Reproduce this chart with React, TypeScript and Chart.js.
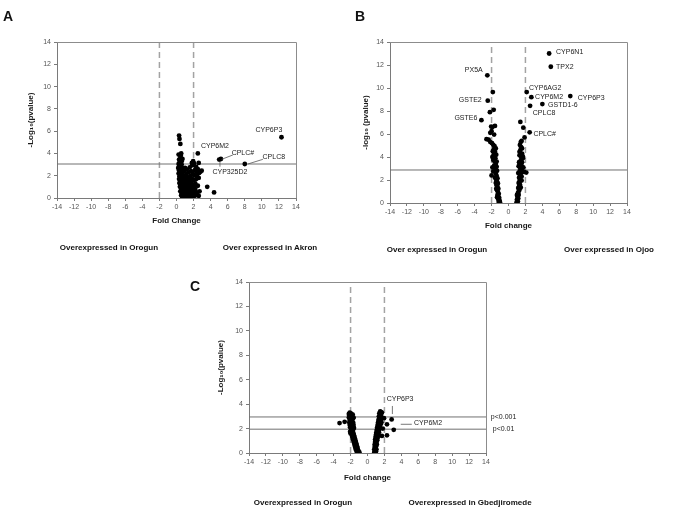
import React, { useEffect, useRef } from "react";
import { Chart, registerables } from "chart.js";
Chart.register(...registerables);

const FONT = "'Liberation Sans', Arial, sans-serif";

// ---------- Panel A ----------
const aPoints: number[][] = [
  [0.3,5.6],[0.35,5.3],[0.45,4.85],[0.55,4.0],[0.5,3.8],[0.45,3.6],[0.55,3.45],[0.4,3.3],[0.5,3.15],[0.6,3.0],
  [0.35,2.9],[0.45,2.75],[0.55,2.6],[0.3,2.5],[0.5,2.4],[0.65,2.3],[0.4,2.2],[0.55,2.05],[0.35,1.95],[0.6,1.85],
  [0.45,1.75],[0.7,1.65],[0.5,1.5],[0.65,1.4],[0.4,1.3],[0.55,1.2],[0.75,1.1],[0.5,1.0],[0.65,0.9],[0.8,0.8],
  [0.55,0.7],[0.7,0.6],[0.9,0.5],[0.6,0.45],[0.75,0.35],[0.85,0.25],[0.95,0.15],[0.8,0.1],[1.0,0.05],[1.1,0.2],
  [1.2,0.35],[1.35,0.25],[1.5,0.15],[1.65,0.3],[1.8,0.2],[2.0,0.1],[2.3,0.25],[2.6,0.2],[0.95,0.6],[1.05,0.8],
  [1.15,1.0],[1.0,1.25],[0.9,1.45],[1.2,1.55],[1.3,1.3],[1.45,1.1],[1.6,0.9],[1.4,0.7],[1.25,0.55],[1.75,0.65],
  [1.9,0.8],[2.1,0.55],[1.05,1.75],[0.95,1.95],[1.15,2.15],[1.3,1.85],[1.5,1.6],[1.7,1.35],[1.85,1.15],[2.05,1.0],
  [2.2,1.3],[1.6,1.95],[1.4,2.3],[1.2,2.55],[1.0,2.7],[1.8,1.75],[2.0,1.6],[2.3,1.7],[1.7,2.4],[1.9,2.2],
  [2.1,2.05],[2.4,2.0],[2.6,1.8],[1.55,2.75],[1.85,2.95],[1.95,3.3],[1.8,3.15],[2.15,2.5],[2.35,2.35],[2.5,2.6],
  [2.65,2.25],[2.8,2.35],[2.95,2.45],[2.6,3.15],[2.3,2.8],[2.05,3.1],[0.7,2.1],[0.8,1.9],[0.85,2.4],[0.7,2.7],
  [0.25,3.9],[0.3,3.45],[0.25,3.05],[0.2,2.7],[0.25,2.2],[0.3,1.7],[0.35,1.35],[0.4,1.0],[0.45,0.6],[0.55,0.25],
  [0.65,0.15],[1.3,0.1],[1.55,0.45],[1.95,0.4],[2.4,0.5],[2.7,0.6],[2.2,0.8],[2.5,1.1],[0.6,3.3],[0.7,3.5],
  [3.6,1.0],[4.4,0.5],
  [2.5,4.0],[5.0,3.45],[5.2,3.5],[8.0,3.05],[12.3,5.45],
];
const aVLines = [-2, 2];
const aHLines = [3.05];
const aLabels = [
  { text: "CYP6P3", x: 10.82, y: 6.1, align: "center" },
  { text: "CYP6M2", x: 4.5, y: 4.7, align: "center" },
  { text: "CPLC#", x: 7.78, y: 4.04, align: "center" },
  { text: "CPLC8", x: 11.4, y: 3.7, align: "center" },
  { text: "CYP325D2", x: 6.26, y: 2.36, align: "center" },
];
const aLeaders = [[5.29,3.47,6.6,3.86],[8.36,3.05,10.12,3.47],[5.09,3.26,5.09,2.81]];

// ---------- Panel B ----------
const bPoints: number[][] = [
  [-2.5,11.1],[-1.85,9.65],[-2.45,8.9],[-2.2,7.9],[-1.75,8.1],[-3.2,7.2],
  [-2.05,6.65],[-1.9,6.6],[-1.6,6.7],[-2.15,6.1],[-2.0,6.25],[-1.7,5.95],[-2.6,5.55],[-2.35,5.5],[-2.15,5.3],
  [-1.95,5.2],[-1.8,5.05],[-1.65,4.95],[-1.7,4.7],[-1.6,4.45],[-1.9,4.0],[-1.75,4.2],[-1.55,3.9],[-1.65,3.6],
  [-1.5,3.4],[-1.7,3.25],[-1.4,3.15],[-1.55,3.0],[-1.35,2.8],[-1.8,2.75],[-2.0,2.4],[-1.5,2.55],[-1.4,2.35],
  [-1.3,2.15],[-1.45,2.0],[-1.35,1.85],[-1.25,1.7],[-1.4,1.55],[-1.3,1.4],[-1.2,1.25],[-1.35,1.1],[-1.25,0.95],
  [-1.15,0.8],[-1.3,0.7],[-1.2,0.55],[-1.1,0.45],[-1.2,0.3],[-1.05,0.2],[-1.15,0.1],[-1.0,0.05],[-1.9,3.1],
  [-1.5,4.75],[-1.85,4.5],[-1.45,4.2],[-1.8,3.75],[-1.4,3.6],[-1.6,2.2],[-1.5,1.75],[-1.45,1.25],[-1.35,0.5],
  [1.4,7.05],[1.75,6.55],[1.9,5.7],[1.45,5.3],[1.35,5.05],[1.5,4.85],[1.4,4.6],[1.6,4.3],[1.3,4.15],[1.5,4.0],
  [1.7,3.9],[1.45,3.7],[1.6,3.55],[1.35,3.4],[1.55,3.25],[1.75,3.1],[1.4,3.0],[1.6,2.85],[1.3,2.75],[2.1,2.65],
  [1.85,2.7],[1.5,2.6],[1.35,2.45],[1.55,2.3],[1.25,2.2],[1.4,2.05],[1.3,1.9],[1.2,1.75],[1.35,1.6],[1.25,1.45],
  [1.15,1.3],[1.3,1.15],[1.2,1.0],[1.1,0.85],[1.2,0.7],[1.05,0.55],[1.15,0.4],[1.0,0.3],[1.1,0.15],[0.95,0.05],
  [1.25,3.55],[1.3,4.45],[1.6,4.75],[1.55,5.4],[1.7,4.05],[1.2,3.2],[1.15,2.6],[1.55,1.95],[1.45,1.35],[1.0,0.7],
  [4.8,13.0],[5.0,11.85],[2.15,9.65],[2.7,9.2],[7.3,9.3],[4.0,8.6],[2.55,8.45],[2.5,6.15],
];
const bVLines = [-2, 2];
const bHLines = [2.87];
const bLabels = [
  { text: "CYP6N1", x: 5.62, y: 13.1, align: "left" },
  { text: "TPX2", x: 5.62, y: 11.85, align: "left" },
  { text: "PX5A", x: -3.04, y: 11.57, align: "right" },
  { text: "CYP6AG2", x: 2.43, y: 9.97, align: "left" },
  { text: "CYP6M2", x: 3.14, y: 9.24, align: "left" },
  { text: "CYP6P3", x: 8.18, y: 9.16, align: "left" },
  { text: "GSTD1-6", x: 4.68, y: 8.55, align: "left" },
  { text: "CPLC8", x: 2.87, y: 7.8, align: "left" },
  { text: "CPLC#", x: 2.94, y: 5.97, align: "left" },
  { text: "GSTE2", x: -3.16, y: 8.96, align: "right" },
  { text: "GSTE6", x: -3.68, y: 7.36, align: "right" },
];
const bLeaders: number[][] = [];

// ---------- Panel C ----------
const cPoints: number[][] = [
  [-2.1,3.3],[-2.0,3.25],[-1.9,3.2],[-2.15,3.1],[-1.8,3.0],[-2.0,2.95],[-1.65,2.9],[-1.95,2.8],[-2.1,2.7],
  [-1.85,2.6],[-1.7,2.5],[-2.0,2.45],[-1.9,2.3],[-1.75,2.2],[-2.05,2.1],[-1.85,2.0],[-1.7,1.9],[-1.95,1.8],
  [-1.8,1.7],[-2.0,1.6],[-1.65,1.6],[-1.85,1.5],[-1.7,1.4],[-1.55,1.3],[-1.75,1.25],[-1.6,1.15],[-1.45,1.05],
  [-1.65,1.0],[-1.5,0.9],[-1.35,0.8],[-1.55,0.75],[-1.4,0.65],[-1.25,0.55],[-1.45,0.5],[-1.3,0.4],[-1.15,0.3],
  [-1.35,0.25],[-1.2,0.15],[-1.05,0.1],[-1.1,0.02],[-0.95,0.05],[-3.3,2.45],[-2.7,2.55],[-1.7,2.85],
  [-2.2,3.2],[-1.75,3.15],[-2.2,2.9],[-1.85,2.85],[-2.15,2.5],[-1.8,2.4],[-2.1,2.3],[-1.65,2.3],[-1.95,2.15],
  [-1.6,2.05],[-1.9,1.95],[-2.05,1.75],[-1.75,1.75],[-1.9,1.6],[-1.6,1.45],[-1.8,1.35],[-1.5,1.2],[-1.7,1.1],
  [-1.4,0.95],[-1.6,0.85],[-1.3,0.7],[-1.5,0.6],[-1.2,0.45],[-1.4,0.35],[-1.1,0.2],[-1.25,0.05],
  [1.5,3.4],[1.6,3.35],[1.4,3.25],[1.55,3.15],[1.35,3.0],[1.45,2.85],[1.3,2.7],[1.5,2.6],[1.25,2.5],[1.4,2.4],
  [1.2,2.3],[1.35,2.2],[1.15,2.1],[1.3,2.0],[1.1,1.9],[1.25,1.8],[1.05,1.7],[1.2,1.6],[1.0,1.5],[1.15,1.4],
  [0.95,1.3],[1.1,1.2],[0.9,1.1],[1.05,1.0],[0.9,0.9],[1.0,0.8],[0.85,0.7],[0.95,0.6],[0.85,0.5],[0.95,0.4],
  [0.8,0.3],[0.9,0.2],[0.85,0.1],[0.95,0.03],[1.8,2.0],[1.7,1.4],[1.95,2.85],[1.65,2.5],
  [1.7,3.3],[1.6,3.05],[1.5,2.95],[1.6,2.75],[1.45,2.5],[1.55,2.35],[1.3,2.35],[1.45,2.15],[1.25,2.05],
  [1.4,1.95],[1.15,1.8],[1.35,1.7],[1.1,1.55],[1.3,1.45],[1.05,1.35],[1.2,1.25],[1.0,1.15],[1.15,1.05],
  [1.05,0.9],[1.1,0.7],[1.0,0.55],[1.05,0.3],[1.0,0.15],[0.8,0.05],
  [2.85,2.75],[2.3,2.35],[3.1,1.9],[2.3,1.45],
];
const cVLines = [-2, 2];
const cHLines = [2.95, 1.95];
const cLabels = [
  { text: "CYP6P3", x: 3.85, y: 4.4, align: "center" },
  { text: "CYP6M2", x: 5.5, y: 2.43, align: "left" },
  { text: "p<0.001", x: 14.57, y: 2.95, align: "left" },
  { text: "p<0.01", x: 14.8, y: 1.95, align: "left" },
];
const cLeaders = [[2.94,3.85,2.94,3.19],[3.93,2.35,5.23,2.35]];

const xTickMin = -14, xTickMax = 14, yTickMin = 0, yTickMax = 14, tickStep = 2;

type Spec = {
  left: number; top: number; W: number; H: number;
  area: number[]; yTitle: string; yTitleX: number; xTitle: string; xTitleY: number;
  points: number[][]; vlines: number[]; hlines: number[];
  labels: { text: string; x: number; y: number; align: string }[]; leaders: number[][];
};

const specs: Spec[] = [
  { left: 0, top: 0, W: 340, H: 260, area: [57, 42, 296, 198], yTitle: "-Log\u2081\u2080(pvalue)", yTitleX: 31,
    xTitle: "Fold Change", xTitleY: 221, points: aPoints, vlines: aVLines, hlines: aHLines, labels: aLabels, leaders: aLeaders },
  { left: 340, top: 0, W: 345, H: 260, area: [50, 42, 287, 203], yTitle: "-log\u2081\u2080 (pvalue)", yTitleX: 26,
    xTitle: "Fold change", xTitleY: 226, points: bPoints, vlines: bVLines, hlines: bHLines, labels: bLabels, leaders: bLeaders },
  { left: 150, top: 260, W: 400, H: 256, area: [99, 22, 336, 193], yTitle: "-Log\u2081\u2080(pvalue)", yTitleX: 71,
    xTitle: "Fold change", xTitleY: 218, points: cPoints, vlines: cVLines, hlines: cHLines, labels: cLabels, leaders: cLeaders },
];

function buildConfig(s: Spec): any {
  const [l, t, r, b] = s.area;
  const titleSize = 8;
  const lh = titleSize * 1.2;
  const axisColor = "#7a7a7a";
  const datasets: any[] = [
    ...s.vlines.map((v) => ({
      data: [{ x: v, y: yTickMin }, { x: v, y: yTickMax }], showLine: true, borderColor: "#a3a3a3",
      borderWidth: 1.5, borderDash: [6, 4], pointRadius: 0, order: 3,
    })),
    ...s.hlines.map((h) => ({
      data: [{ x: xTickMin, y: h }, { x: xTickMax, y: h }], showLine: true, borderColor: "#707070",
      borderWidth: 1, pointRadius: 0, order: 2,
    })),
    {
      data: s.points.map(([x, y]) => ({ x, y })), backgroundColor: "#000", borderColor: "#000",
      pointRadius: 2.4, borderWidth: 0, order: 1,
    },
  ];
  const annot = {
    id: "annot",
    afterDatasetsDraw(chart: any) {
      const { ctx, chartArea: ca } = chart;
      const xs = chart.scales.x, ys = chart.scales.y;
      ctx.save();
      ctx.strokeStyle = "#8c8c8c";
      ctx.lineWidth = 1;
      ctx.beginPath();
      ctx.moveTo(ca.left, Math.round(ca.top) + 0.5);
      ctx.lineTo(Math.round(ca.right) + 0.5, Math.round(ca.top) + 0.5);
      ctx.lineTo(Math.round(ca.right) + 0.5, ca.bottom);
      ctx.stroke();
      ctx.strokeStyle = "#555";
      ctx.lineWidth = 0.8;
      for (const [x1, y1, x2, y2] of s.leaders) {
        ctx.beginPath();
        ctx.moveTo(xs.getPixelForValue(x1), ys.getPixelForValue(y1));
        ctx.lineTo(xs.getPixelForValue(x2), ys.getPixelForValue(y2));
        ctx.stroke();
      }
      ctx.font = `7px ${FONT}`;
      ctx.fillStyle = "#222";
      ctx.textBaseline = "middle";
      for (const lb of s.labels) {
        ctx.textAlign = lb.align;
        ctx.fillText(lb.text, xs.getPixelForValue(lb.x), ys.getPixelForValue(lb.y));
      }
      ctx.restore();
    },
  };
  const tickFont = { family: FONT, size: 7 };
  const grid = { display: true, drawOnChartArea: false, drawTicks: true, tickLength: 3, color: axisColor };
  return {
    type: "scatter",
    data: { datasets },
    plugins: [annot],
    options: {
      responsive: false,
      animation: false,
      devicePixelRatio: 1,
      layout: { padding: { left: 0, top: t, right: s.W - r, bottom: 0 } },
      plugins: { legend: { display: false }, tooltip: { enabled: false } },
      scales: {
        x: {
          type: "linear", min: xTickMin, max: xTickMax,
          ticks: { stepSize: tickStep, font: tickFont, color: "#555", padding: 2, maxRotation: 0, autoSkip: false },
          grid, border: { display: true, color: axisColor, width: 1 },
          title: { display: true, text: s.xTitle, color: "#1a1a1a", font: { family: FONT, size: titleSize, weight: "bold" },
            padding: { top: 0, bottom: s.H - s.xTitleY - lh / 2 } },
          afterFit: (sc: any) => { sc.height = s.H - b; },
        },
        y: {
          type: "linear", min: yTickMin, max: yTickMax,
          ticks: { stepSize: tickStep, font: tickFont, color: "#555", padding: 3 },
          grid, border: { display: true, color: axisColor, width: 1 },
          title: { display: true, text: s.yTitle, color: "#1a1a1a", font: { family: FONT, size: titleSize, weight: "bold" },
            padding: { top: s.yTitleX - lh / 2, bottom: 0 } },
          afterFit: (sc: any) => { sc.width = l; },
        },
      },
    },
  };
}

function Panel({ spec }: { spec: Spec }) {
  const ref = useRef<HTMLCanvasElement>(null);
  useEffect(() => {
    const chart = new Chart(ref.current as HTMLCanvasElement, buildConfig(spec));
    return () => chart.destroy();
  }, [spec]);
  return (
    <canvas ref={ref} width={spec.W} height={spec.H}
      style={{ position: "absolute", left: spec.left, top: spec.top, width: spec.W, height: spec.H }} />
  );
}

const panelLetters = [
  { text: "A", x: 3, y: 9 },
  { text: "B", x: 355, y: 9 },
  { text: "C", x: 190, y: 279 },
];
const captions = [
  { text: "Overexpressed in Orogun", x: 109, y: 248 },
  { text: "Over expressed in Akron", x: 270, y: 248 },
  { text: "Over expressed in Orogun", x: 437, y: 250 },
  { text: "Over expressed in Ojoo", x: 609, y: 250 },
  { text: "Overexpressed in Orogun", x: 303, y: 503 },
  { text: "Overexpressed in Gbedjiromede", x: 470, y: 503 },
];

export default function App() {
  return (
    <div style={{ position: "absolute", left: 0, top: 0, width: 685, height: 516, background: "#fff", overflow: "hidden" }}>
      {specs.map((s, i) => <Panel key={i} spec={s} />)}
      {panelLetters.map((p) => (
        <div key={p.text} style={{ position: "absolute", left: p.x, top: p.y, font: `bold 14px ${FONT}`, lineHeight: "14px", color: "#111" }}>
          {p.text}
        </div>
      ))}
      {captions.map((c, i) => (
        <div key={i} style={{ position: "absolute", left: c.x, top: c.y, transform: "translate(-50%, -50%)", whiteSpace: "nowrap",
          font: `bold 8px ${FONT}`, lineHeight: "10px", color: "#111" }}>
          {c.text}
        </div>
      ))}
    </div>
  );
}
